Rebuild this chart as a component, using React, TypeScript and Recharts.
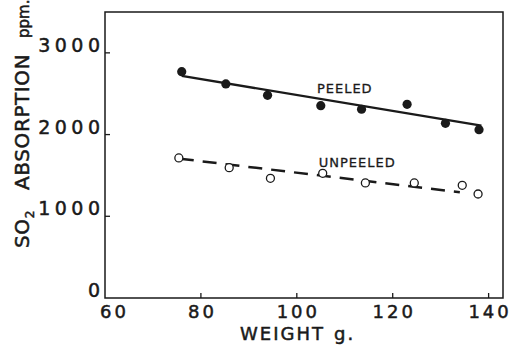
import React from "react";
import {
  ComposedChart,
  XAxis,
  YAxis,
  Line,
  Scatter,
  ReferenceArea,
  ReferenceDot,
  Label,
} from "recharts";

// Observed points
const peeledWeights = [76, 85.2, 93.9, 105, 113.5, 123, 131, 138];
const peeledSO2 = [2770, 2620, 2480, 2354, 2310, 2370, 2138, 2060];
const unpeeledWeights = [75.4, 85.9, 94.5, 105.4, 114.3, 124.5, 134.5, 137.8];
const unpeeledSO2 = [1714, 1595, 1465, 1526, 1408, 1408, 1379, 1273];

// Fitted lines (end points)
const peeledFitWeights = [76, 138.5];
const peeledFitSO2 = [2717, 2110];
const unpeeledFitWeights = [75.6, 134];
const unpeeledFitSO2 = [1705, 1294];

const xTicks = [60, 80, 100, 120, 140];
const yTicks = [0, 1000, 2000, 3000];
const xDomain = [60, 143];
const yDomain = [0, 3500];

const zip = (xs: number[], ys: number[]) => xs.map((x, i) => ({ x, y: ys[i] }));

const peeledPts = zip(peeledWeights, peeledSO2);
const unpeeledPts = zip(unpeeledWeights, unpeeledSO2);
const peeledFit = zip(peeledFitWeights, peeledFitSO2);
const unpeeledFit = zip(unpeeledFitWeights, unpeeledFitSO2);

const FONT = "'DejaVu Sans', sans-serif";
const INK = "#1a1a1a";

const XTick = (props: any) => {
  const { x, y, payload } = props;
  const v = payload.value;
  const dx = v === 60 ? 8 : 0;
  return (
    <g>
      {v !== 60 && <line x1={x} y1={y} x2={x} y2={y - 5} stroke={INK} strokeWidth={1.3} />}
      <text
        x={x + dx + 1.5}
        y={y + 20}
        textAnchor="middle"
        fontFamily={FONT}
        fontSize={18}
        letterSpacing={3}
        fill={INK}
        stroke={INK}
        strokeWidth={0.5}
      >
        {v}
      </text>
    </g>
  );
};

const YTick = (props: any) => {
  const { x, y, payload } = props;
  const v = payload.value;
  return (
    <g>
      {v !== 0 && <line x1={x} y1={y} x2={x + 5} y2={y} stroke={INK} strokeWidth={1.3} />}
      <text
        x={x - 0.5}
        y={y - 1}
        textAnchor="end"
        fontFamily={FONT}
        fontSize={19}
        letterSpacing={4.5}
        fill={INK}
        stroke={INK}
        strokeWidth={0.5}
      >
        {v}
      </text>
    </g>
  );
};

const FilledDot = (props: any) => {
  const { cx, cy } = props;
  return <circle cx={cx} cy={cy} r={4.6} fill={INK} />;
};

const OpenDot = (props: any) => {
  const { cx, cy } = props;
  return <circle cx={cx} cy={cy} r={4} fill="#fff" stroke={INK} strokeWidth={1.3} />;
};

const seriesLabel = (text: string) => (p: any) => {
  const vb = p.viewBox || {};
  return (
    <text
      x={vb.x}
      y={vb.y}
      textAnchor="middle"
      fontFamily={FONT}
      fontSize={13}
      letterSpacing={1}
      fill={INK}
      stroke={INK}
      strokeWidth={0.3}
    >
      {text}
    </text>
  );
};

export default function App() {
  return (
    <div style={{ position: "absolute", left: 0, top: 0, background: "#fff" }}>
      <ComposedChart
        width={513}
        height={347}
        margin={{ top: 12, right: 10, bottom: 0, left: 0 }}
      >
        <XAxis
          dataKey="x"
          type="number"
          domain={xDomain}
          ticks={xTicks}
          allowDataOverflow
          height={49}
          tickSize={0}
          tickMargin={0}
          tickLine={false}
          axisLine={false}
          tick={<XTick />}
        >
          <Label
            content={(p: any) => {
              const vb = p.viewBox;
              return (
                <text
                  x={240}
                  y={vb.y + 42}
                  fontFamily={FONT}
                  fontSize={18}
                  letterSpacing={2}
                  fill={INK}
                  stroke={INK}
                  strokeWidth={0.5}
                >
                  <tspan>WEIGHT</tspan>
                  <tspan x={334}>g.</tspan>
                </text>
              );
            }}
          />
        </XAxis>
        <YAxis
          type="number"
          domain={yDomain}
          ticks={yTicks}
          allowDataOverflow
          width={105}
          tickSize={0}
          tickMargin={0}
          tickLine={false}
          axisLine={false}
          tick={<YTick />}
        >
          <Label
            content={() => (
              <text
                transform="rotate(-90, 29, 250)"
                x={29}
                y={250}
                fontFamily={FONT}
                fontSize={20}
                letterSpacing={0.6}
                fill={INK}
                stroke={INK}
                strokeWidth={0.5}
              >
                <tspan x={31} y={250}>SO</tspan>
                <tspan fontSize={12} dy={5}>2</tspan>
                <tspan x={89} y={250}>ABSORPTION</tspan>
                <tspan x={241} y={250} fontSize={15} letterSpacing={0}>ppm.</tspan>
              </text>
            )}
          />
        </YAxis>
        <ReferenceArea
          x1={xDomain[0]}
          x2={xDomain[1]}
          y1={yDomain[0]}
          y2={yDomain[1]}
          fill="none"
          stroke={INK}
          strokeWidth={1.5}
          ifOverflow="visible"
        />
        <Line
          data={peeledFit}
          dataKey="y"
          stroke={INK}
          strokeWidth={2.3}
          dot={false}
          isAnimationActive={false}
        />
        <Line
          data={unpeeledFit}
          dataKey="y"
          stroke={INK}
          strokeWidth={2.5}
          strokeDasharray="14 9"
          dot={false}
          isAnimationActive={false}
        />
        <Scatter data={peeledPts} dataKey="y" shape={<FilledDot />} isAnimationActive={false} />
        <Scatter data={unpeeledPts} dataKey="y" shape={<OpenDot />} isAnimationActive={false} />
        <ReferenceDot x={110} y={2509} r={0} stroke="none" fill="none" ifOverflow="visible">
          <Label content={seriesLabel("PEELED")} />
        </ReferenceDot>
        <ReferenceDot x={112.6} y={1603} r={0} stroke="none" fill="none" ifOverflow="visible">
          <Label content={seriesLabel("UNPEELED")} />
        </ReferenceDot>
      </ComposedChart>
    </div>
  );
}
